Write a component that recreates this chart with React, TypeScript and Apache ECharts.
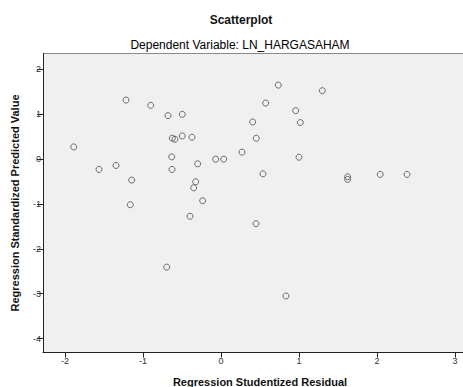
import React, { useEffect, useRef } from "react";
import * as echarts from "echarts";

const residuals = [
  -1.218, -0.901, -0.679, -0.496, 0.406, -1.888, -0.624, -0.59, -0.496, -0.372,
  0.453, 0.269, -0.068, 0.035, -0.632, -0.299, -1.564, -1.346, -0.628, -1.145,
  -0.324, -0.35, -0.235, -1.163, -0.397, 0.735, 1.299, 0.573, 0.958, 1.017,
  1.0, 0.538, 1.624, 1.624, 2.042, 2.385, 0.449, -0.696, 0.833,
];
const predicted = [
  1.318, 1.2, 0.971, 1.0, 0.829, 0.273, 0.467, 0.444, 0.518, 0.489,
  0.467, 0.156, 0.0, 0.0, 0.051, -0.104, -0.229, -0.14, -0.229, -0.467,
  -0.504, -0.638, -0.927, -1.016, -1.273, 1.651, 1.527, 1.251, 1.082, 0.816,
  0.044, -0.327, -0.393, -0.451, -0.34, -0.34, -1.438, -2.407, -3.051,
];
const xTicks = [-2, -1, 0, 1, 2, 3];
const yTicks = [-4, -3, -2, -1, 0, 1, 2];

const title = "Scatterplot";
const subtitle = "Dependent Variable: LN_HARGASAHAM";
const xTitle = "Regression Studentized Residual";
const yTitle = "Regression Standardized Predicted Value";

export default function App() {
  const ref = useRef<HTMLDivElement>(null);
  useEffect(() => {
    if (!ref.current) return;
    const chart = echarts.init(ref.current, null, { renderer: "svg" });
    const font = "'Liberation Sans', Arial, sans-serif";
    chart.setOption({
      animation: false,
      backgroundColor: "#ffffff",
      grid: {
        left: 43,
        top: 53.5,
        width: 420,
        height: 299,
        show: true,
        backgroundColor: "#f0f0f0",
        borderWidth: 0,
      },
      xAxis: {
        type: "value",
        min: -2.282,
        max: 3.103,
        axisLine: { show: true, onZero: false, lineStyle: { color: "#222", width: 1 } },
        axisTick: {
          show: true,
          length: 5,
          customValues: xTicks,
          lineStyle: { color: "#222" },
        },
        axisLabel: {
          customValues: xTicks,
          fontFamily: font,
          fontSize: 9,
          color: "#333",
          margin: 4,
        },
        splitLine: { show: false },
      },
      yAxis: {
        type: "value",
        min: -4.311,
        max: 2.356,
        axisLine: { show: true, onZero: false, lineStyle: { color: "#222", width: 1 } },
        axisTick: {
          show: true,
          length: 6,
          customValues: yTicks,
          lineStyle: { color: "#222" },
        },
        axisLabel: {
          customValues: yTicks,
          fontFamily: font,
          fontSize: 9,
          color: "#333",
          margin: 2,
        },
        splitLine: { show: false },
      },
      series: [
        {
          type: "scatter",
          data: residuals.map((x, i) => [x, predicted[i]]),
          symbol: "circle",
          symbolSize: 6,
          itemStyle: {
            color: "rgba(0,0,0,0)",
            borderColor: "#4a4a4a",
            borderWidth: 1,
          },
        },
      ],
      graphic: [
        {
          type: "line",
          shape: { x1: 43, y1: 53.5, x2: 463, y2: 53.5 },
          style: { stroke: "#8a8a8a", lineWidth: 1 },
        },
        {
          type: "text",
          x: 241,
          y: 20,
          style: {
            text: title,
            fontFamily: font,
            fontSize: 12,
            fontWeight: "bold",
            fill: "#111",
            textAlign: "center",
            textVerticalAlign: "middle",
          },
        },
        {
          type: "text",
          x: 240,
          y: 45,
          style: {
            text: subtitle,
            fontFamily: font,
            fontSize: 12,
            fill: "#000",
            textAlign: "center",
            textVerticalAlign: "middle",
          },
        },
        {
          type: "text",
          x: 260,
          y: 382,
          style: {
            text: xTitle,
            fontFamily: font,
            fontSize: 11,
            fontWeight: "bold",
            fill: "#111",
            textAlign: "center",
            textVerticalAlign: "middle",
          },
        },
        {
          type: "text",
          x: 15,
          y: 203,
          rotation: Math.PI / 2,
          style: {
            text: yTitle,
            fontFamily: font,
            fontSize: 11,
            fontWeight: "bold",
            fill: "#111",
            textAlign: "center",
            textVerticalAlign: "middle",
          },
        },
      ],
    });
    return () => chart.dispose();
  }, []);
  return (
    <div
      ref={ref}
      style={{ position: "fixed", left: 0, top: 0, width: 463, height: 387 }}
    />
  );
}
